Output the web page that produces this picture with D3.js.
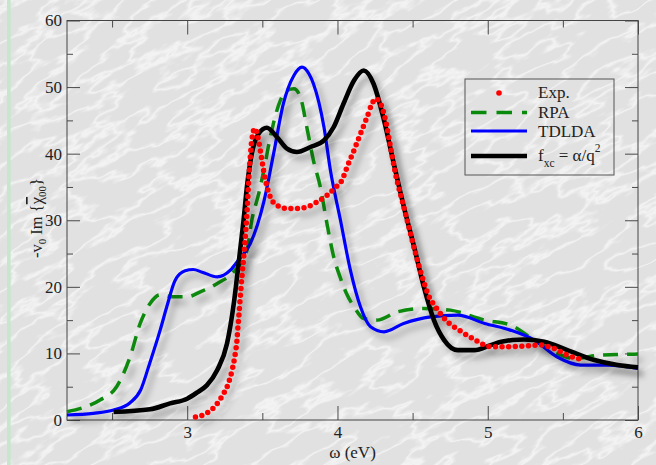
<!DOCTYPE html>
<html>
<head>
<meta charset="utf-8">
<script src="https://cdn.jsdelivr.net/npm/d3@7"></script>
<style>
html,body{margin:0;padding:0;background:#e4e4e4;}
svg{display:block;}
text{font-family:"Liberation Serif","DejaVu Serif",serif;fill:#222;}
</style>
</head>
<body>
<svg id="chart" width="656" height="465"></svg>
<script>
// ---- data ----
const expData = [[3.055,0.45],[3.12,0.9],[3.176,1.85],[3.23,3.5],[3.276,5.65],[3.303,7.9],[3.32,10],[3.331,11.9],[3.338,14],[3.345,16],[3.355,19],[3.366,22],[3.378,25],[3.39,28.5],[3.4,32],[3.407,35],[3.415,38],[3.425,41],[3.437,43],[3.447,43.8],[3.46,43.4],[3.475,42],[3.49,40],[3.508,37.5],[3.526,35.5],[3.553,33.5],[3.597,32.25],[3.664,31.75],[3.73,31.75],[3.797,32],[3.864,32.75],[3.93,33.75],[3.99,35],[4.03,36],[4.064,38],[4.11,40.5],[4.153,43],[4.197,45.5],[4.23,47.5],[4.253,48.25],[4.28,47.8],[4.32,45],[4.353,41],[4.386,37],[4.43,33],[4.475,29],[4.52,25],[4.564,21.5],[4.61,18.5],[4.653,17],[4.72,15],[4.81,13.5],[4.91,12.1],[5.02,11],[5.13,11],[5.24,11.1],[5.353,11.25],[5.44,10.75],[5.53,9.75],[5.64,9.0]];
const rpaData = [[2.2,1.25],[2.3,1.8],[2.42,3],[2.53,5],[2.62,9.5],[2.687,14.5],[2.753,17.5],[2.82,18.8],[2.91,18.5],[3.0,18.5],[3.087,19.25],[3.2,20.5],[3.31,22.3],[3.398,25.5],[3.43,30],[3.476,34],[3.51,37.5],[3.553,42.5],[3.62,48],[3.664,49.5],[3.71,49.75],[3.753,48.5],[3.8,43.5],[3.84,39],[3.886,35],[3.93,29.5],[3.975,24.5],[4.02,21.3],[4.06,19],[4.11,17],[4.175,15.25],[4.264,15],[4.4,16.25],[4.575,16.75],[4.75,16.5],[4.98,15],[5.153,14.25],[5.31,12],[5.42,10.5],[5.575,9.25],[5.753,9.75],[6.0,9.9]];
const tdldaData = [[2.2,0.75],[2.375,1.0],[2.51,1.5],[2.62,2.6],[2.69,4.5],[2.75,8.5],[2.82,13.5],[2.864,17],[2.92,21],[2.986,22.4],[3.04,22.6],[3.1,22.2],[3.2,21.5],[3.287,22.5],[3.34,24],[3.42,26.5],[3.51,32.8],[3.575,40],[3.64,47.5],[3.71,51.75],[3.764,53],[3.81,52],[3.84,50.5],[3.91,44],[3.953,37.5],[4.02,30],[4.086,22.5],[4.153,17],[4.22,14],[4.31,13.25],[4.44,14.5],[4.62,15.5],[4.8,15.75],[4.98,14.5],[5.15,13.5],[5.31,12],[5.46,9.5],[5.62,8.25],[5.8,8.25],[6.0,7.75]];
const fxcData = [[2.51,1.2],[2.753,1.6],[2.886,2.5],[3.0,3.2],[3.07,4.2],[3.13,5.2],[3.2,7.5],[3.265,11.5],[3.31,17.5],[3.342,23.5],[3.375,30],[3.4,35.5],[3.43,40],[3.475,43],[3.53,43.9],[3.597,42.5],[3.664,40.75],[3.73,40.25],[3.82,41],[3.91,42],[3.975,44],[4.04,47.5],[4.11,51],[4.175,52.5],[4.24,50.5],[4.31,45],[4.375,38.5],[4.442,32],[4.51,26],[4.575,20],[4.642,15],[4.71,12],[4.8,10.5],[4.91,10.5],[5.02,11.25],[5.09,11.75],[5.24,12.1],[5.375,11.75],[5.53,10.5],[5.71,9],[5.864,8.25],[6.0,7.9]];

const xMajorTicks = [3,4,5,6];
const xMinorTicks = [2.5,3.5,4.5,5.5];
const yMajorTicks = [0,10,20,30,40,50,60];
const yMinorTicks = [5,15,25,35,45,55];
const legendLabels = ["Exp.","RPA","TDLDA","fxc"];

// ---- layout ----
const W = 656, H = 465;
const L = 67, R = 638, T = 20.5, B = 420;
const FONT = "'Liberation Serif', 'Times New Roman', serif";
const FS = 17;
const svg = d3.select("#chart");
const defs = svg.append("defs");

// marble-like background
const mf = defs.append("filter").attr("id","marble").attr("x",0).attr("y",0).attr("width","100%").attr("height","100%")
  .attr("color-interpolation-filters","sRGB");
mf.append("feTurbulence").attr("type","fractalNoise").attr("baseFrequency","0.016 0.045").attr("numOctaves",4).attr("seed",11);
mf.append("feColorMatrix").attr("type","matrix").attr("values","1 0 0 0 0  1 0 0 0 0  1 0 0 0 0  0 0 0 0 1");
const ct = mf.append("feComponentTransfer");
const tvArr = [];
for (let i=0;i<=24;i++){ const t=i/24; const d=Math.abs(t-0.5); tvArr.push(d<0.025?0.955:(d<0.06?0.915:0.885)); }
const tv = tvArr.join(" ");
["feFuncR","feFuncG","feFuncB"].forEach(f=>ct.append(f).attr("type","table").attr("tableValues",tv));

const sh = defs.append("filter").attr("id","shadow").attr("x","-10%").attr("y","-10%").attr("width","130%").attr("height","130%");
sh.append("feDropShadow").attr("dx",5).attr("dy",6).attr("stdDeviation",3).attr("flood-color","#000").attr("flood-opacity",0.3);

svg.append("g").attr("transform","rotate(-28 328 232)")
  .append("rect").attr("x",-250).attr("y",-250).attr("width",W+500).attr("height",H+500).attr("filter","url(#marble)");
svg.append("rect").attr("x",7).attr("y",0).attr("width",3.6).attr("height",H).attr("fill","#c6e6cd");

const x = d3.scaleLinear().domain([2.2,6]).range([L,R]);
const y = d3.scaleLinear().domain([0,60]).range([B,T]);

function styleAxis(g){
  g.attr("font-family",FONT);
  g.select(".domain").remove();
  g.selectAll(".tick line").attr("stroke","#4a4a4a").attr("stroke-width",1);
  g.selectAll(".tick text").style("font-family",FONT).attr("font-size",FS).attr("fill","#222");
}
// bottom
svg.append("g").attr("transform",`translate(0,${B})`)
  .call(d3.axisBottom(x).tickValues(xMajorTicks).tickSize(-14).tickPadding(6).tickFormat(d3.format("d"))).call(styleAxis);
svg.append("g").attr("transform",`translate(0,${B})`)
  .call(d3.axisBottom(x).tickValues(xMinorTicks).tickSize(-7).tickFormat("")).call(styleAxis);
// top
svg.append("g").attr("transform",`translate(0,${T})`)
  .call(d3.axisTop(x).tickValues(xMajorTicks).tickSize(-14).tickFormat("")).call(styleAxis);
svg.append("g").attr("transform",`translate(0,${T})`)
  .call(d3.axisTop(x).tickValues(xMinorTicks).tickSize(-7).tickFormat("")).call(styleAxis);
// left
svg.append("g").attr("transform",`translate(${L},0)`)
  .call(d3.axisLeft(y).tickValues(yMajorTicks).tickSize(-13).tickPadding(5).tickFormat(d3.format("d"))).call(styleAxis);
svg.append("g").attr("transform",`translate(${L},0)`)
  .call(d3.axisLeft(y).tickValues(yMinorTicks).tickSize(-6).tickFormat("")).call(styleAxis);
// right
svg.append("g").attr("transform",`translate(${R},0)`)
  .call(d3.axisRight(y).tickValues(yMajorTicks).tickSize(-13).tickFormat("")).call(styleAxis);
svg.append("g").attr("transform",`translate(${R},0)`)
  .call(d3.axisRight(y).tickValues(yMinorTicks).tickSize(-6).tickFormat("")).call(styleAxis);

// frame
svg.append("rect").attr("x",L).attr("y",T).attr("width",R-L).attr("height",B-T)
  .attr("fill","none").attr("stroke","#444").attr("stroke-width",1);

// axis titles
svg.append("text").attr("x",(L+R)/2).attr("y",458).attr("text-anchor","middle").attr("font-size",FS).style("font-family",FONT).text("ω (eV)");
const yl = svg.append("text").attr("transform","translate(42,218) rotate(-90)").attr("text-anchor","middle").attr("font-size",16.5).style("font-family",FONT);
yl.append("tspan").text("-v");
yl.append("tspan").attr("font-size",11).attr("dy",4).text("0");
yl.append("tspan").attr("dy",-4).text(" Im {");
yl.append("tspan").attr("text-decoration","overline").text("χ");
yl.append("tspan").attr("font-size",11).attr("dy",4).text("00");
yl.append("tspan").attr("dy",-4).text("}");

// curves
const line = d3.line().x(d=>x(d[0])).y(d=>y(d[1])).curve(d3.curveMonotoneX);
const gPlot = svg.append("g");
gPlot.append("path").datum(rpaData).attr("d",line).attr("fill","none")
  .attr("stroke","#0a8a0a").attr("stroke-width",3.5).attr("stroke-dasharray","15,9").attr("filter","url(#shadow)");
gPlot.append("path").datum(tdldaData).attr("d",line).attr("fill","none")
  .attr("stroke","#0000ff").attr("stroke-width",3.2).attr("filter","url(#shadow)");
gPlot.append("path").datum(fxcData).attr("d",line).attr("fill","none")
  .attr("stroke","#000").attr("stroke-width",4.6).attr("stroke-linejoin","round").attr("filter","url(#shadow)");
gPlot.append("path").datum(expData).attr("d",line).attr("fill","none")
  .attr("stroke","#ff0000").attr("stroke-width",5.5).attr("stroke-linecap","round").attr("stroke-dasharray","0,6.6").attr("filter","url(#shadow)");

// legend
const lg = svg.append("g").style("font-family",FONT);
lg.append("rect").attr("x",465).attr("y",79).attr("width",149).attr("height",96).attr("fill","none").attr("stroke","#555").attr("stroke-width",1);
lg.append("circle").attr("cx",499).attr("cy",93).attr("r",2.8).attr("fill","#ff0000");
lg.append("line").attr("x1",471).attr("x2",527).attr("y1",112.5).attr("y2",112.5).attr("stroke","#0a8a0a").attr("stroke-width",3.5).attr("stroke-dasharray","15.5,10");
lg.append("line").attr("x1",471).attr("x2",527).attr("y1",131).attr("y2",131).attr("stroke","#0000ff").attr("stroke-width",3.2);
lg.append("line").attr("x1",471).attr("x2",527).attr("y1",156).attr("y2",156).attr("stroke","#000").attr("stroke-width",4.6);
const ly = [98,118,137,161];
legendLabels.slice(0,3).forEach((t,i)=>{
  lg.append("text").attr("x",538).attr("y",ly[i]).attr("font-size",FS).style("font-family",FONT).text(t);
});
const ft = lg.append("text").attr("x",538).attr("y",ly[3]).attr("font-size",FS).style("font-family",FONT);
ft.append("tspan").text("f");
ft.append("tspan").attr("font-size",11.5).attr("dy",6).text("xc");
ft.append("tspan").attr("dy",-6).text(" = α/q");
ft.append("tspan").attr("font-size",11.5).attr("dy",-9).text("2");
</script>
</body>
</html>
